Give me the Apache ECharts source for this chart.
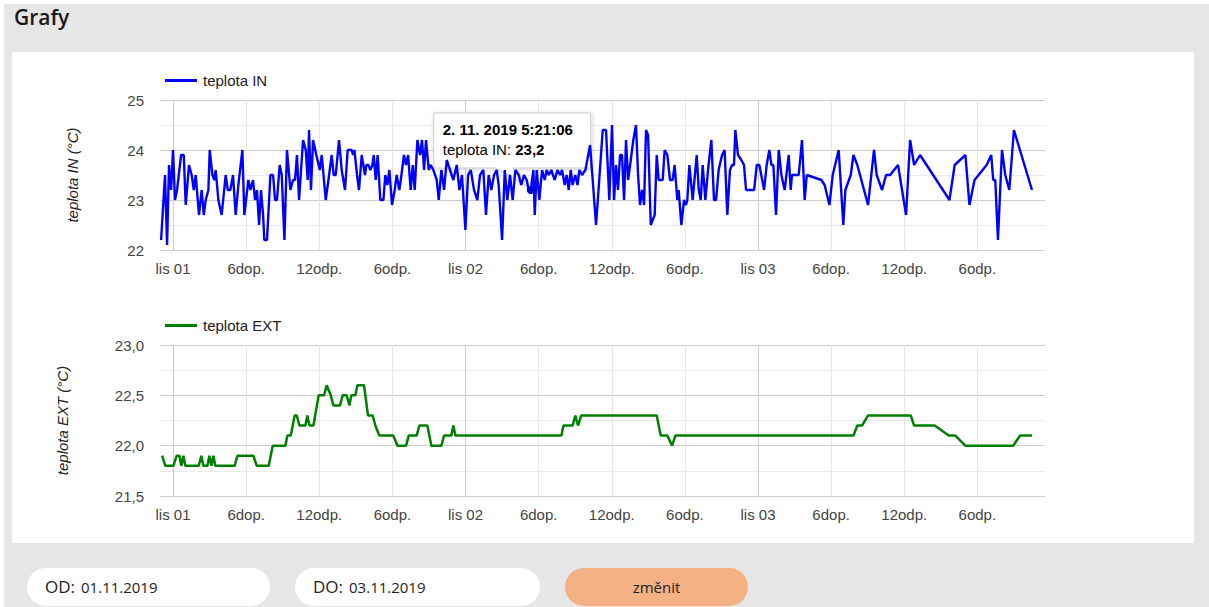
<!DOCTYPE html>
<html>
<head>
<meta charset="utf-8">
<script src="https://cdn.jsdelivr.net/npm/echarts@6/dist/echarts.min.js"></script>
<style>
html,body{margin:0;padding:0;width:1209px;height:607px;overflow:hidden;background:#fff;}
#panel{position:absolute;left:4px;top:4px;width:1205px;height:603px;background:#e6e6e6;}
#title{position:absolute;left:14px;top:3px;margin:0;font:600 21px 'Open Sans',sans-serif;color:#1a1a1a;}
#card{position:absolute;left:12px;top:52px;width:1182px;height:491px;background:#fff;}
#chart{position:absolute;left:12px;top:52px;width:1182px;height:491px;}
.box{position:absolute;top:568px;height:38px;border-radius:19px;background:#fff;box-sizing:border-box;padding-left:18px;line-height:38px;color:#222;font-family:'Open Sans',sans-serif;}
.box b{font-weight:400;font-size:17px;margin-right:6px;}
.box span{font-size:15px;}
#btn{position:absolute;top:568px;left:565px;width:183px;height:38px;border-radius:19px;background:#f3b184;text-align:center;font:15px 'Open Sans',sans-serif;line-height:38px;color:#222;}
</style>
</head>
<body>
<div id="panel"></div>
<h2 id="title">Grafy</h2>
<div id="card"></div>
<div id="chart"></div>
<div class="box" style="left:27px;width:243px;"><b>OD:</b><span>01.11.2019</span></div>
<div class="box" style="left:295px;width:245px;"><b>DO:</b><span>03.11.2019</span></div>
<div id="btn">změnit</div>
<script>
// Times are hours after 1. 11. 2019 00:00
const blueName = 'teplota IN';
const blueHours = [-0.98,-0.66,-0.49,-0.33,-0.16,0,0.16,0.33,0.66,0.88,1.04,1.31,1.53,1.70,1.86,2.13,2.35,2.52,2.68,2.90,3.01,3.23,3.39,3.50,3.72,3.99,4.32,4.49,4.70,4.92,5.14,5.36,5.69,5.85,6.18,6.35,6.56,6.73,6.89,7.06,7.22,7.39,7.49,7.71,7.99,8.21,8.37,8.53,8.75,8.92,9.14,9.35,9.63,9.85,10.01,10.17,10.34,10.67,10.89,11.05,11.16,11.32,11.49,11.76,12.04,12.20,12.53,12.75,13.02,13.18,13.35,13.62,13.84,14.11,14.33,14.66,14.77,14.88,15.10,15.26,15.48,15.75,15.86,16.03,16.19,16.36,16.47,16.63,16.79,17.01,17.26,
17.42,17.59,17.75,17.97,18.19,18.35,18.57,18.74,18.95,19.12,19.29,19.50,19.67,19.83,20.05,20.27,20.43,20.60,20.76,20.98,21.14,21.36,21.64,21.80,22.02,22.24,22.46,22.73,23.00,23.28,23.50,23.71,23.99,24.21,24.43,24.70,24.97,25.19,25.46,25.68,25.90,26.12,26.34,26.56,26.72,27.00,27.22,27.43,27.65,27.87,28.09,28.36,28.58,28.80,29.02,29.18,29.3517,29.57,29.68,29.84,30.06,30.28,30.50,30.66,30.83,31.04,31.32,31.54,31.76,31.92,32.14,32.30,32.47,32.63,32.79,33.01,33.19,33.34,33.56,33.84,34.22,34.71,
35.26,35.53,35.80,36.02,36.19,36.35,36.51,36.68,36.84,37.01,37.17,37.34,37.56,37.77,37.99,38.16,38.32,38.49,38.65,38.81,38.98,39.20,39.52,39.69,39.85,40.18,40.34,40.56,40.78,41.00,41.16,41.38,41.49,41.71,41.93,42.09,42.20,42.37,42.64,42.97,43.14,43.30,43.46,43.68,43.90,44.17,44.39,44.56,44.77,45.05,45.26,45.48,45.70,45.87,46.03,46.14,46.36,46.63,46.85,47.02,47.51,47.68,47.90,48.11,48.50,48.71,48.93,49.10,49.26,49.48,49.70,49.92,50.19,50.52,50.68,50.79,51.34,51.61,51.83,52.00,53.20,53.47,53.86,54.13,54.62,55.00,55.17,55.61,55.83,56.15,57.03,57.52,57.74,58.18,58.51,58.84,59.49,60.15,60.48,60.81,61.30,63.71,64.14,65.02,65.35,65.77,66.76,67.14,67.30,67.47,67.69,68.02,68.29,68.62,69.00,70.48];
const blueValues = [22.2,23.5,22.1,23.7,23.2,24.0,23.0,23.2,23.9,23.9,22.9,23.7,23.5,23.2,23.5,22.7,23.2,22.7,23.0,23.2,24.0,23.5,23.4,23.6,23.0,22.7,23.5,23.2,23.2,23.5,22.7,23.3,24.0,22.7,23.4,23.2,23.4,23.0,23.2,22.5,23.2,22.7,22.2,22.2,23.5,23.5,23.0,23.0,23.7,23.5,22.2,24.0,23.2,23.4,23.4,23.9,23.0,24.2,24.0,23.4,24.4,23.2,24.2,23.9,23.6,23.9,23.0,23.4,23.9,23.5,23.5,24.2,23.6,23.2,24.0,24.0,23.9,24.0,23.5,23.2,23.9,23.5,23.7,23.7,23.6,23.7,23.9,23.4,23.9,23.0,23.0,
23.5,23.3,23.6,22.9,23.2,23.5,23.2,23.5,23.9,23.7,23.9,23.2,23.7,23.2,24.2,23.9,24.2,23.6,24.2,23.6,23.7,23.6,23.4,23.0,23.6,23.2,23.8,23.6,23.4,23.7,23.2,23.5,22.4,23.5,23.6,23.2,23.0,23.5,23.6,22.7,23.5,23.2,23.5,23.6,23.3,22.2,23.6,23.0,23.5,23.0,23.6,23.5,23.3,23.5,23.4,23.2,23.2,23.6,22.7,23.6,23.0,23.6,23.4,23.6,23.5,23.6,23.4,23.6,23.5,23.6,23.3,23.5,23.2,23.6,23.3,23.5,23.3,23.6,23.5,23.6,24.1,22.5,
24.4,24.4,23.0,24.5,23.0,23.7,23.2,23.9,23.9,23.0,24.2,23.4,23.8,24.2,24.5,23.5,22.9,23.2,22.9,24.4,24.3,22.5,22.7,23.9,23.4,23.4,24.0,23.9,23.4,23.4,23.7,23.0,23.2,22.5,23.0,22.9,23.0,23.7,23.0,23.9,23.2,23.0,23.7,23.0,23.6,24.2,23.0,23.0,23.6,23.9,24.0,22.7,23.6,23.7,23.7,24.4,23.9,23.8,23.7,23.2,23.2,23.2,23.7,23.7,23.2,23.7,24.0,23.7,23.7,22.7,24.0,23.5,23.2,23.9,23.2,23.5,23.5,24.2,23.0,23.5,23.4,23.3,22.9,23.5,24.0,22.5,23.2,23.5,23.9,23.7,22.9,24.0,23.5,23.2,23.5,23.5,23.7,22.7,24.2,23.7,23.9,23.0,23.7,23.9,22.9,23.4,23.7,23.9,23.4,23.4,22.2,24.0,23.5,23.2,24.4,23.2];

const greenName = 'teplota EXT';
const greenHours = [-0.90,-0.63,0.03,0.30,0.52,0.68,0.85,1.01,2.11,2.32,2.49,2.82,2.98,3.15,3.31,3.47,5.06,5.28,6.59,6.87,7.85,8.18,9.22,9.38,9.66,9.98,10.15,10.37,10.86,11.02,11.19,11.52,11.95,12.39,12.61,12.94,13.16,13.70,13.92,14.25,14.47,14.63,14.96,15.13,15.67,16.00,16.38,16.60,16.93,18.08,18.41,19.12,19.34,19.99,20.21,20.87,21.20,22.02,22.24,22.84,23.00,23.17,31.87,32.04,32.79,33.01,33.23,33.50,39.69,40.02,40.56,40.95,41.22,55.83,56.15,56.54,57.03,60.53,60.81,62.50,63.65,64.20,65.01,68.95,69.50,70.49];
const greenValues = [21.9,21.8,21.8,21.9,21.9,21.8,21.9,21.8,21.8,21.9,21.8,21.8,21.9,21.8,21.9,21.8,21.8,21.9,21.9,21.8,21.8,22.0,22.0,22.1,22.1,22.3,22.3,22.2,22.2,22.3,22.2,22.2,22.5,22.5,22.6,22.5,22.4,22.4,22.5,22.5,22.4,22.5,22.5,22.6,22.6,22.3,22.3,22.2,22.1,22.1,22.0,22.0,22.1,22.1,22.2,22.2,22.0,22.0,22.1,22.1,22.2,22.1,22.1,22.2,22.2,22.3,22.2,22.3,22.3,22.1,22.1,22.0,22.1,22.1,22.2,22.2,22.3,22.3,22.2,22.2,22.1,22.1,22.0,22.0,22.1,22.1];

const axisStartHour = -1.07, axisEndHour = 71.55;
const tickHours = [0, 6, 12, 18, 24, 30, 36, 42, 48, 54, 60, 66];
const dayHours = [0, 24, 48];
const tickLabelsByHour = ['lis', '6dop.', '12odp.', '6odp.'];
const inTicks = [22, 25, 1];
const extTicks = [21.5, 23, 0.5];
const tipIndex = blueHours.indexOf(29.3517);

const FONT = "Arial, 'Liberation Sans', sans-serif";
const baseDate = Date.UTC(2019, 10, 1);
const blueData = blueHours.map((h, i) => [h, blueValues[i]]);
const greenData = greenHours.map((h, i) => [h, greenValues[i]]);

function tickLabel(h) {
  const hr = ((h % 24) + 24) % 24;
  if (hr === 0) return tickLabelsByHour[0] + ' ' + String(1 + Math.round(h / 24)).padStart(2, '0');
  return tickLabelsByHour[hr / 6];
}
function xAx(gi, values, color, labels) {
  return {
    type: 'value', gridIndex: gi, min: axisStartHour, max: axisEndHour,
    position: 'bottom',
    axisLine: { show: false },
    axisTick: { show: false, customValues: values },
    axisLabel: labels ? { show: true, customValues: values, formatter: tickLabel, fontSize: 15, color: '#444', fontFamily: FONT, margin: 11 } : { show: false },
    splitLine: { show: true, lineStyle: { color: color, width: 1 } }
  };
}
function yAx(gi, t, name, gap, fmt) {
  return {
    type: 'value', gridIndex: gi, min: t[0], max: t[1], interval: t[2],
    axisLine: { show: false }, axisTick: { show: false },
    axisLabel: { fontSize: 15, color: '#444', fontFamily: FONT, margin: 16, formatter: fmt },
    splitLine: { lineStyle: { color: '#cccccc' } },
    minorTick: { show: false, splitNumber: 2 },
    minorSplitLine: { show: true, lineStyle: { color: '#ebebeb' } },
    name: name, nameLocation: 'middle', nameGap: gap,
    nameTextStyle: { fontStyle: 'italic', fontSize: 15, color: '#222', fontFamily: FONT }
  };
}
const fmtComma = v => v.toFixed(1).replace('.', ',');
const legendBase = { icon: 'rect', itemWidth: 32, itemHeight: 3, left: 148, textStyle: { fontSize: 15, color: '#222', fontFamily: FONT, padding: [0, 0, 0, 1] } };

const chart = echarts.init(document.getElementById('chart'), null, { renderer: 'svg' });
chart.setOption({
  animation: false,
  backgroundColor: 'transparent',
  legend: [
    Object.assign({ data: [blueName], top: 16 }, legendBase),
    Object.assign({ data: [greenName], top: 261 }, legendBase)
  ],
  grid: [
    { left: 148, top: 48, width: 885, height: 150 },
    { left: 148, top: 293, width: 885, height: 151 }
  ],
  xAxis: [
    xAx(0, tickHours, '#e6e6e6', true), xAx(0, dayHours, '#cccccc', false),
    xAx(1, tickHours, '#e6e6e6', true), xAx(1, dayHours, '#cccccc', false)
  ],
  yAxis: [
    yAx(0, inTicks, 'teplota IN (°C)', 80, v => String(v)),
    yAx(1, extTicks, 'teplota EXT (°C)', 90, fmtComma)
  ],
  series: [
    { name: blueName, type: 'line', xAxisIndex: 0, yAxisIndex: 0, data: blueData, showSymbol: false,
      lineStyle: { color: '#0000ff', width: 2.4 }, itemStyle: { color: '#0000ff' },
      markPoint: { symbol: 'circle', symbolSize: 8, label: { show: false }, itemStyle: { color: '#0000cc' },
        data: [{ coord: blueData[tipIndex] }] } },
    { name: greenName, type: 'line', xAxisIndex: 2, yAxisIndex: 1, data: greenData, showSymbol: false,
      lineStyle: { color: '#008000', width: 2.5 }, itemStyle: { color: '#008000' } }
  ]
});

// tooltip shown over the chosen point
const p = chart.convertToPixel({ seriesIndex: 0 }, blueData[tipIndex]);
const d = new Date(baseDate + Math.round(blueHours[tipIndex] * 3600) * 1000);
const pad = n => String(n).padStart(2, '0');
const tipTitle = d.getUTCDate() + '. ' + (d.getUTCMonth() + 1) + '. ' + d.getUTCFullYear() + ' ' + d.getUTCHours() + ':' + pad(d.getUTCMinutes()) + ':' + pad(d.getUTCSeconds());
const tipVal = fmtComma(blueData[tipIndex][1]);
const bx0 = p[0] - 97, bx1 = p[0] + 60, by0 = p[1] - 77, by1 = p[1] - 22;
chart.setOption({
  graphic: [{
    type: 'group', id: 'tip', z: 100,
    children: [
      { type: 'polygon', shape: { points: [[bx0, by0], [bx1, by0], [bx1, by1], [p[0] - 18, by1], [p[0] - 1, p[1] - 3], [p[0] - 35, by1], [bx0, by1]] },
        style: { fill: '#fff', stroke: '#cccccc', lineWidth: 1, shadowBlur: 4, shadowOffsetX: 1, shadowOffsetY: 1, shadowColor: 'rgba(0,0,0,0.18)' } },
      { type: 'text', style: { x: bx0 + 9, y: by0 + 9, text: tipTitle, font: 'bold 15px ' + FONT, fill: '#000' } },
      { type: 'text', style: { x: bx0 + 9, y: by0 + 29, text: '{a|' + blueName + ': }{b|' + tipVal + '}',
        rich: { a: { fontSize: 15, fontFamily: FONT, color: '#222' }, b: { fontSize: 15, fontFamily: FONT, fontWeight: 'bold', color: '#000' } } } }
    ]
  }]
});
</script>
</body>
</html>
